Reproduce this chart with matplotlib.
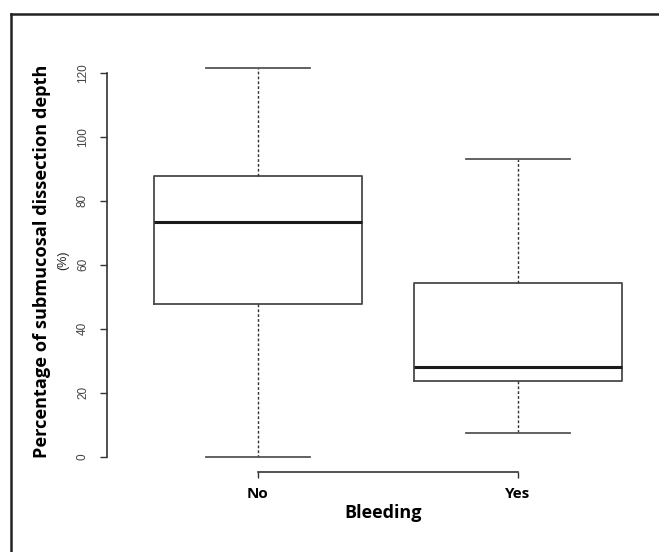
import matplotlib
matplotlib.use('Agg')
import matplotlib.pyplot as plt
from matplotlib.lines import Line2D

#- Data:

groups = ['No', 'Yes']
whislo = [0.0, 7.3]
q1 = [47.7, 23.7]
med = [73.3, 27.9]
q3 = [87.8, 54.4]
whishi = [121.4, 92.9]
yticks = [0, 20, 40, 60, 80, 100, 120]

stats = []
for i in range(len(groups)):
    stats.append(dict(label=groups[i], whislo=whislo[i], q1=q1[i], med=med[i],
                      q3=q3[i], whishi=whishi[i], fliers=[]))

#- Figure and axes (R style boxplot):

fig = plt.figure(figsize=(6.59, 5.52), dpi=100)
ax = fig.add_axes([128/659, 1-472.2/552, 520/659, (472.2-52.5)/552])

boxcol = '#4a4a4a'
ax.bxp(stats, positions=[1, 2], widths=0.8, showfliers=False,
       boxprops=dict(color=boxcol, linewidth=1.3),
       medianprops=dict(color='#1a1a1a', linewidth=2.2, solid_capstyle='butt'),
       whiskerprops=dict(color='#333333', linewidth=1.0, linestyle=(0, (2, 1.5))),
       capprops=dict(color='#555555', linewidth=1.3), capwidths=0.4)

ax.set_xlim(0.5, 2.5)
ax.set_ylim(-4.86, 126.3)

for s in ['top', 'right']:
    ax.spines[s].set_visible(False)
ax.spines['left'].set_position(('outward', 15.1))
ax.spines['left'].set_bounds(0, 120)
ax.spines['bottom'].set_bounds(1, 2)
for s in ['left', 'bottom']:
    ax.spines[s].set_color('#333333')
    ax.spines[s].set_linewidth(1.2)

ax.set_yticks(yticks)
ax.set_yticklabels([str(v) for v in yticks], rotation=90, va='center',
                   fontsize=8.5, color='#444444', family='Liberation Sans')
ax.tick_params(axis='y', length=5, width=1.0, color='#333333', pad=8)
ax.set_xticks([1, 2])
ax.set_xticklabels(groups, fontsize=11, fontweight='bold', family='Open Sans')
ax.tick_params(axis='x', length=4.5, width=1.0, color='#333333', pad=6)

#- Axis titles:

fig.text(42/659, 1-261/552, 'Percentage of submucosal dissection depth',
         rotation=90, ha='center', va='center', fontsize=13.1,
         fontweight='bold', family='Open Sans')
fig.text(63/659, 1-260/552, '(%)', rotation=90, ha='center', va='center',
         fontsize=9, family='Liberation Sans', color='#222222')
fig.text(383/659, 1-513/552, 'Bleeding', ha='center', va='center',
         fontsize=13, fontweight='bold', family='Open Sans')

#- Outer frame (top and left edges only):

fig.add_artist(Line2D([10.5/659, 1], [1-13.5/552, 1-13.5/552],
                      transform=fig.transFigure, color='#222222', linewidth=1.8))
fig.add_artist(Line2D([10.5/659, 10.5/659], [0, 1-13.5/552],
                      transform=fig.transFigure, color='#222222', linewidth=1.8))

plt.savefig('out.png', dpi=100)
